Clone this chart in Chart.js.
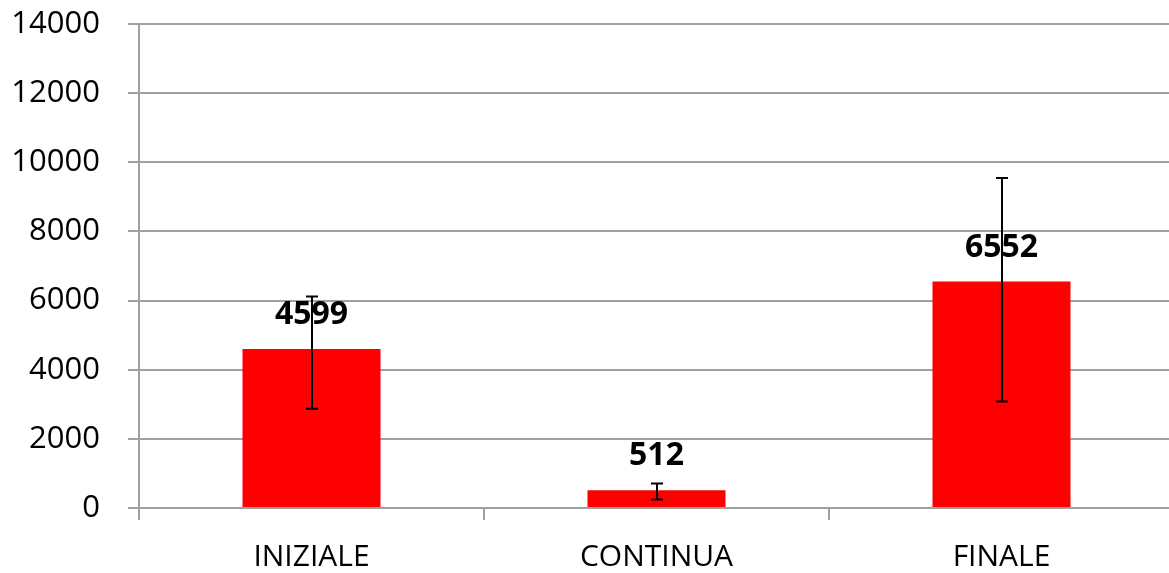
<!DOCTYPE html>
<html>
<head>
<meta charset="utf-8">
<script src="https://cdn.jsdelivr.net/npm/chart.js@4"></script>
<style>
  html, body { margin: 0; padding: 0; background: #fff; overflow: hidden; }
  #wrap { width: 1169px; height: 573px; overflow: hidden; }
</style>
</head>
<body>
<div id="wrap"><canvas id="chart" width="1174" height="573"></canvas></div>
<script>
const categories = ['INIZIALE', 'CONTINUA', 'FINALE'];
const values = [4599, 512, 6552];
// error bars (asymmetric)
const errPlus = [1520, 200, 2995];
const errMinus = [1730, 265, 3470];
const yTicks = [0, 2000, 4000, 6000, 8000, 10000, 12000, 14000];

const FONT = "'Open Sans', sans-serif";
const GRID = '#a0a0a0';

const valueLabels = {
    id: 'valueLabels',
    afterDatasetsDraw(chart) {
        const ctx = chart.ctx;
        const meta = chart.getDatasetMeta(0);
        ctx.save();
        ctx.font = 'bold 32px ' + FONT;
        ctx.fillStyle = '#000';
        ctx.textAlign = 'center';
        ctx.textBaseline = 'middle';
        meta.data.forEach((bar, i) => {
            ctx.fillText(String(values[i]), bar.x, bar.y - 34);
        });
        ctx.restore();
    }
};

const errorBars = {
    id: 'errorBars',
    afterDatasetsDraw(chart) {
        const ctx = chart.ctx;
        const y = chart.scales.y;
        const meta = chart.getDatasetMeta(0);
        ctx.save();
        ctx.strokeStyle = '#000';
        ctx.lineWidth = 2;
        meta.data.forEach((bar, i) => {
            const x = Math.round(bar.x);
            const top = y.getPixelForValue(values[i] + errPlus[i]);
            const bot = y.getPixelForValue(values[i] - errMinus[i]);
            ctx.beginPath();
            ctx.moveTo(x, top);
            ctx.lineTo(x, bot);
            ctx.moveTo(x - 6, top);
            ctx.lineTo(x + 6, top);
            ctx.moveTo(x - 6, bot);
            ctx.lineTo(x + 6, bot);
            ctx.stroke();
        });
        ctx.restore();
    }
};

new Chart(document.getElementById('chart'), {
    type: 'bar',
    data: {
        labels: categories,
        datasets: [{
            data: values,
            backgroundColor: '#ff0000',
            borderWidth: 0,
            categoryPercentage: 0.4,
            barPercentage: 1.0
        }]
    },
    options: {
        responsive: false,
        animation: false,
        devicePixelRatio: 1,
        layout: { padding: 0 },
        plugins: {
            legend: { display: false },
            tooltip: { enabled: false }
        },
        scales: {
            x: {
                grid: {
                    offset: true,
                    drawOnChartArea: false,
                    drawTicks: true,
                    tickLength: 12,
                    color: GRID,
                    lineWidth: 2
                },
                border: { color: GRID, width: 2 },
                ticks: {
                    color: '#000',
                    font: { family: FONT, size: 30 },
                    padding: 19,
                    maxRotation: 0
                },
                afterFit(scale) { scale.height = 65; }
            },
            y: {
                min: 0,
                max: 14000,
                afterBuildTicks(scale) {
                    scale.ticks = yTicks.map(v => ({ value: v }));
                },
                grid: {
                    color: GRID,
                    lineWidth: 2,
                    tickLength: 11
                },
                border: { color: GRID, width: 2 },
                ticks: {
                    color: '#000',
                    font: { family: FONT, size: 31 },
                    padding: 28,
                    callback: v => String(v)
                },
                afterFit(scale) {
                    scale.width = 139;
                    scale.paddingTop = 24;
                    scale.paddingBottom = 0;
                }
            }
        }
    },
    plugins: [valueLabels, errorBars]
});
</script>
</body>
</html>
